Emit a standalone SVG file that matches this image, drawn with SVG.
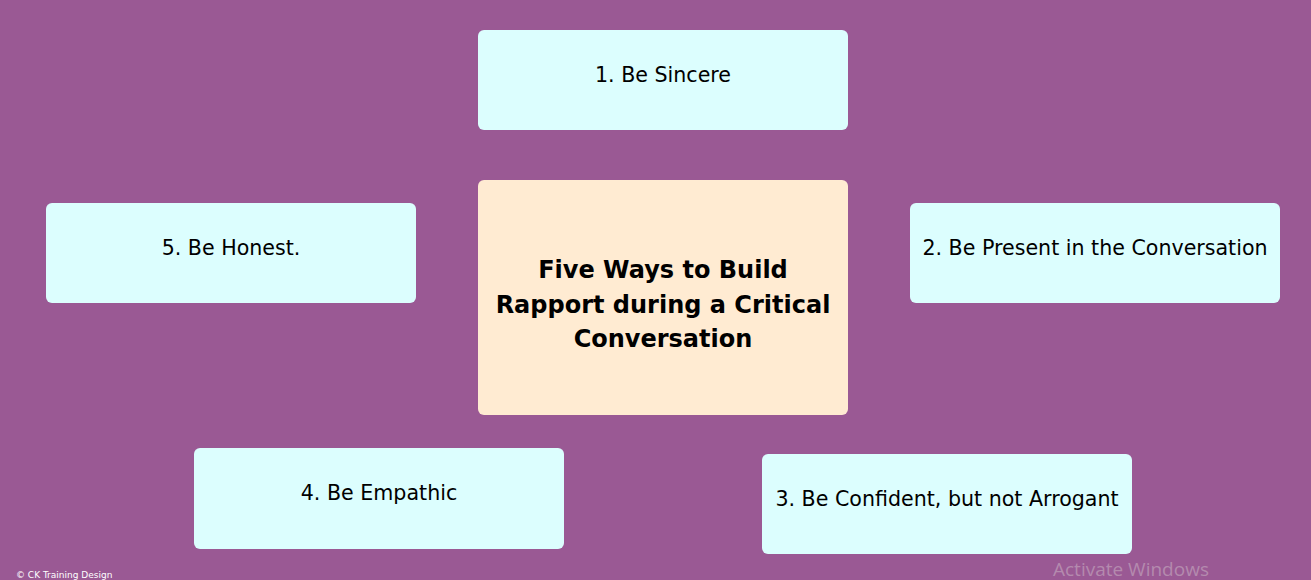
<svg xmlns="http://www.w3.org/2000/svg" width="1311" height="580" viewBox="0 0 1311 580">
<style>
.bg{fill:#9a5994}
.box{fill:#dcfefe}
.ctr{fill:#ffebd2}
.t{font-family:"DejaVu Sans","Liberation Sans",sans-serif;font-size:20.6px;fill:#000;text-anchor:middle}
.tb{font-family:"DejaVu Sans","Liberation Sans",sans-serif;font-size:24px;font-weight:bold;fill:#000;text-anchor:middle}
.wm{font-family:"Segoe UI","Open Sans","Liberation Sans",sans-serif;font-size:19px;fill:#b48aae}
.cp{font-family:"DejaVu Sans","Liberation Sans",sans-serif;font-size:9px;fill:#fff}
</style>
<rect class="bg" x="0" y="0" width="1311" height="580"/>
<g id="connectors"></g>
<g id="center">
<rect class="ctr" x="478" y="180" width="370" height="235" rx="6"/>
<text class="tb" x="663" y="278">Five Ways to Build</text>
<text class="tb" x="663" y="313">Rapport during a Critical</text>
<text class="tb" x="663" y="347">Conversation</text>
</g>
<g id="n1">
<rect class="box" x="478" y="30" width="370" height="100" rx="6"/>
<text class="t" x="663" y="82">1. Be Sincere</text>
</g>
<g id="n2">
<rect class="box" x="910" y="203" width="370" height="100" rx="6"/>
<text class="t" x="1095" y="255">2. Be Present in the Conversation</text>
</g>
<g id="n3">
<rect class="box" x="762" y="454" width="370" height="100" rx="6"/>
<text class="t" x="947" y="506">3. Be Confident, but not Arrogant</text>
</g>
<g id="n4">
<rect class="box" x="194" y="448" width="370" height="101" rx="6"/>
<text class="t" x="379" y="500">4. Be Empathic</text>
</g>
<g id="n5">
<rect class="box" x="46" y="203" width="370" height="100" rx="6"/>
<text class="t" x="231" y="255">5. Be Honest.</text>
</g>
<text class="wm" x="1053" y="576">Activate Windows</text>
<text class="cp" x="16" y="578">© CK Training Design</text>
</svg>
